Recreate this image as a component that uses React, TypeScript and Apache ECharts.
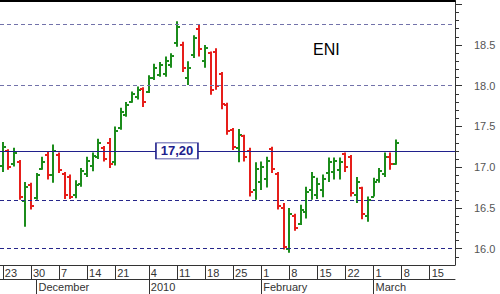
import React, { useEffect, useRef } from "react";
import * as echarts from "echarts";

const FONT = "Liberation Sans, Arial, sans-serif";
const GREEN = "#1b8c1b";
const RED = "#e61e1a";
const NAVY = "#20208c";

const dates = [
  "2009-11-23", "2009-11-24", "2009-11-25", "2009-11-26", "2009-11-27",
  "2009-11-30", "2009-12-01", "2009-12-02", "2009-12-03", "2009-12-04",
  "2009-12-07", "2009-12-08", "2009-12-09", "2009-12-10", "2009-12-11",
  "2009-12-14", "2009-12-15", "2009-12-16", "2009-12-17", "2009-12-18",
  "2009-12-21", "2009-12-22", "2009-12-23",
  "2009-12-28", "2009-12-29", "2009-12-30",
  "2010-01-04", "2010-01-05", "2010-01-06", "2010-01-07", "2010-01-08",
  "2010-01-11", "2010-01-12", "2010-01-13", "2010-01-14", "2010-01-15",
  "2010-01-18", "2010-01-19", "2010-01-20", "2010-01-21", "2010-01-22",
  "2010-01-25", "2010-01-26", "2010-01-27", "2010-01-28", "2010-01-29",
  "2010-02-01", "2010-02-02", "2010-02-03", "2010-02-04", "2010-02-05",
  "2010-02-08", "2010-02-09", "2010-02-10", "2010-02-11", "2010-02-12",
  "2010-02-15", "2010-02-16", "2010-02-17", "2010-02-18", "2010-02-19",
  "2010-02-22", "2010-02-23", "2010-02-24", "2010-02-25", "2010-02-26",
  "2010-03-01", "2010-03-02", "2010-03-03", "2010-03-04", "2010-03-05",
  "2010-03-08", "2010-03-09", "2010-03-10", "2010-03-11", "2010-03-12",
  "2010-03-15", "2010-03-16", "2010-03-17", "2010-03-18", "2010-03-19",
];

const openP = [
  17.02, 17.20, 17.04, 17.06, 16.58, 16.78, 16.62, 16.98, 17.15, 16.90,
  17.15, 16.92, 16.88, 16.66, 16.80, 16.92, 17.02, 17.12, 17.24, 17.30,
  17.06, 17.48, 17.64, 17.80, 17.86, 17.96, 17.92, 18.10, 18.13, 18.15,
  18.25, 18.52, 18.50, 18.10, 18.38, 18.70, 18.30, 18.40, 18.42, 18.14,
  17.76, 17.46, 17.24, 17.38, 17.20, 16.72, 16.82, 16.86, 17.22, 16.92,
  16.50, 16.00, 16.40, 16.30, 16.45, 16.72, 16.66, 16.72, 16.93, 16.94,
  16.96, 17.16, 17.12, 16.66, 16.74, 16.40, 16.64, 16.84, 16.92, 17.12, 17.04,
];
const highP = [
  17.31, 17.22, 17.24, 17.09, 16.82, 16.81, 16.93, 17.13, 17.19, 17.28,
  17.18, 16.94, 16.91, 16.84, 16.99, 17.13, 17.18, 17.35, 17.26, 17.36,
  17.50, 17.73, 17.80, 17.93, 17.99, 17.98, 18.13, 18.27, 18.29, 18.36,
  18.40, 18.79, 18.54, 18.30, 18.62, 18.75, 18.50, 18.42, 18.46, 18.17,
  17.79, 17.48, 17.47, 17.40, 17.24, 17.06, 17.07, 17.13, 17.25, 16.94,
  16.56, 16.50, 16.43, 16.54, 16.76, 16.94, 16.87, 16.91, 17.12, 17.12,
  17.12, 17.18, 17.15, 16.88, 16.76, 16.64, 16.87, 16.99, 17.18, 17.18, 17.34,
];
const lowP = [
  16.94, 16.97, 17.01, 16.60, 16.27, 16.48, 16.60, 16.97, 16.85, 16.81,
  16.93, 16.61, 16.61, 16.62, 16.76, 16.88, 16.95, 17.10, 17.07, 16.99,
  17.02, 17.46, 17.62, 17.79, 17.83, 17.74, 17.91, 18.07, 18.11, 18.11,
  18.22, 18.48, 18.17, 18.01, 18.34, 18.36, 18.22, 17.89, 17.95, 17.71,
  17.40, 17.21, 17.06, 17.07, 16.64, 16.60, 16.72, 16.75, 16.93, 16.48,
  15.99, 15.95, 16.22, 16.29, 16.37, 16.60, 16.61, 16.63, 16.82, 16.85,
  16.85, 16.94, 16.64, 16.56, 16.36, 16.33, 16.64, 16.81, 16.88, 16.97, 17.03,
];
const closeP = [
  17.25, 17.00, 17.18, 16.63, 16.76, 16.52, 16.90, 17.06, 16.90, 17.20,
  16.96, 16.66, 16.64, 16.78, 16.95, 17.08, 17.14, 17.30, 17.10, 17.04,
  17.45, 17.68, 17.76, 17.90, 17.95, 17.80, 18.10, 18.22, 18.26, 18.30,
  18.36, 18.72, 18.22, 18.22, 18.58, 18.45, 18.46, 17.95, 18.00, 17.78,
  17.44, 17.25, 17.40, 17.12, 16.70, 16.98, 17.00, 17.08, 16.98, 16.52,
  16.02, 16.42, 16.26, 16.48, 16.70, 16.88, 16.80, 16.85, 17.06, 17.08,
  17.06, 17.00, 16.68, 16.82, 16.42, 16.60, 16.82, 16.95, 17.12, 17.04, 17.30,
];

const weekStarts = [
  "2009-11-23", "2009-11-30", "2009-12-07", "2009-12-14", "2009-12-21",
  "2010-01-04", "2010-01-11", "2010-01-18", "2010-01-25", "2010-02-01",
  "2010-02-08", "2010-02-15", "2010-02-22", "2010-03-01", "2010-03-08", "2010-03-15",
];
const monthStarts = ["2009-12-01", "2010-01-04", "2010-02-01", "2010-03-01"];
const monthNames = ["December", "2010", "February", "March"];

const majorTicks = [16, 16.5, 17, 17.5, 18, 18.5, 19];
const tickLabels = [16, 16.5, 17, 17.5, 18, 18.5];
const minorTicks = [
  15.9, 16.1, 16.2, 16.3, 16.4, 16.6, 16.7, 16.8, 16.9,
  17.1, 17.2, 17.3, 17.4, 17.6, 17.7, 17.8, 17.9,
  18.1, 18.2, 18.3, 18.4, 18.6, 18.7, 18.8, 18.9,
];

const upperLevels = [18.75, 18.0];
const lowerLevels = [16.6, 16.0];
const refLevel = 17.2;
const refLabel = "17,20";
const refLabelDate = "2010-01-11";
const titleText = "ENI";

export default function App() {
  const ref = useRef<HTMLDivElement>(null);
  useEffect(() => {
    const chart = echarts.init(ref.current!, null, { renderer: "svg" });
    const ohlc = openP.map((o, i) => [i, o, closeP[i], lowP[i], highP[i]]);
    const yMin = 15.8;
    const yMax = 19.04;

    const option: any = {
      animation: false,
      backgroundColor: "#ffffff",
      textStyle: { fontFamily: FONT },
      title: {
        text: titleText,
        left: 308,
        top: 36,
        textStyle: { fontSize: 16, fontWeight: "normal", color: "#000", fontFamily: FONT },
      },
      grid: { left: 0, right: 45, top: 1, bottom: 29, containLabel: false },
      xAxis: [
        {
          type: "category",
          data: dates,
          position: "bottom",
          boundaryGap: true,
          axisLine: { show: true, lineStyle: { color: "#333", width: 1 } },
          axisTick: {
            show: true,
            alignWithLabel: true,
            interval: (_i: number, v: string) => weekStarts.includes(v),
            length: 14,
            lineStyle: { color: "#333" },
          },
          axisLabel: {
            interval: (_i: number, v: string) => weekStarts.includes(v),
            formatter: (v: string) => String(parseInt(v.slice(8), 10)),
            align: "left",
            padding: [0, 0, 0, 2],
            margin: 2,
            fontSize: 11,
            color: "#333",
            fontFamily: FONT,
          },
          splitLine: { show: false },
        },
        {
          type: "category",
          data: dates,
          position: "bottom",
          offset: 14,
          boundaryGap: true,
          axisLine: { show: true, lineStyle: { color: "#333", width: 1 } },
          axisTick: {
            show: true,
            alignWithLabel: true,
            interval: (_i: number, v: string) => monthStarts.includes(v),
            length: 15,
            lineStyle: { color: "#333" },
          },
          axisLabel: {
            interval: (_i: number, v: string) => monthStarts.includes(v),
            formatter: (v: string) => {
              const k = monthStarts.indexOf(v);
              return k >= 0 ? monthNames[k] : "";
            },
            align: "left",
            padding: [0, 0, 0, 2],
            margin: 2,
            fontSize: 11,
            color: "#333",
            fontFamily: FONT,
          },
          splitLine: { show: false },
        },
        {
          type: "category",
          data: dates,
          position: "top",
          axisLine: { show: true, lineStyle: { color: "#000", width: 2 } },
          axisTick: { show: false },
          axisLabel: { show: false },
          splitLine: { show: false },
        },
      ],
      yAxis: [
        {
          type: "value",
          position: "right",
          min: yMin,
          max: yMax,
          axisLine: { show: true, lineStyle: { color: "#333" } },
          axisTick: { show: true, customValues: majorTicks, length: 7, lineStyle: { color: "#333" } },
          axisLabel: {
            customValues: tickLabels,
            formatter: (v: number) => v.toFixed(1),
            margin: 19,
            color: "#555",
            fontSize: 11,
            fontFamily: FONT,
          },
          splitLine: { show: false },
        },
        {
          type: "value",
          position: "right",
          min: yMin,
          max: yMax,
          axisLine: { show: false },
          axisTick: { show: true, customValues: minorTicks, length: 4, lineStyle: { color: "#333" } },
          axisLabel: { show: false },
          splitLine: { show: false },
        },
      ],
      series: [
        {
          type: "line",
          data: [],
          z: 1,
          silent: true,
          markLine: {
            silent: true,
            symbol: ["none", "none"],
            label: { show: false },
            data: [
              ...upperLevels.map((v) => ({ yAxis: v, lineStyle: { color: "#7272aa", type: [4, 3], width: 1 } })),
              ...lowerLevels.map((v) => ({ yAxis: v, lineStyle: { color: "#26268a", type: [4, 3], width: 1 } })),
              { yAxis: refLevel, lineStyle: { color: NAVY, type: "solid", width: 1 } },
            ],
          },
        },
        {
          type: "custom",
          z: 3,
          data: ohlc,
          encode: { x: 0, y: [1, 2, 3, 4] },
          renderItem: (_params: any, api: any) => {
            const i = api.value(0);
            const o = api.value(1);
            const c = api.value(2);
            const l = api.value(3);
            const h = api.value(4);
            const pO = api.coord([i, o]);
            const pC = api.coord([i, c]);
            const pL = api.coord([i, l]);
            const pH = api.coord([i, h]);
            const x = Math.round(pO[0]);
            const color = c >= o ? GREEN : RED;
            const st = { stroke: color, lineWidth: 2 };
            const yo = Math.round(pO[1]);
            const yc = Math.round(pC[1]);
            return {
              type: "group",
              children: [
                { type: "line", shape: { x1: x, y1: pH[1], x2: x, y2: pL[1] }, style: st },
                { type: "line", shape: { x1: x - 3, y1: yo, x2: x, y2: yo }, style: st },
                { type: "line", shape: { x1: x, y1: yc, x2: x + 3, y2: yc }, style: st },
              ],
            };
          },
        },
        {
          type: "line",
          data: [],
          z: 5,
          silent: true,
          markPoint: {
            silent: true,
            symbol: "rect",
            symbolSize: [42, 16],
            itemStyle: { color: "#fff", borderColor: NAVY, borderWidth: 1 },
            label: {
              show: true,
              position: "inside",
              formatter: refLabel,
              color: NAVY,
              fontWeight: "bold",
              fontSize: 13,
              fontFamily: FONT,
            },
            data: [{ coord: [refLabelDate, refLevel], value: refLevel }],
          },
        },
      ],
    };
    chart.setOption(option);
    return () => chart.dispose();
  }, []);
  return (
    <div
      ref={ref}
      style={{ position: "absolute", left: 0, top: 0, width: 500, height: 294, background: "#fff" }}
    />
  );
}
